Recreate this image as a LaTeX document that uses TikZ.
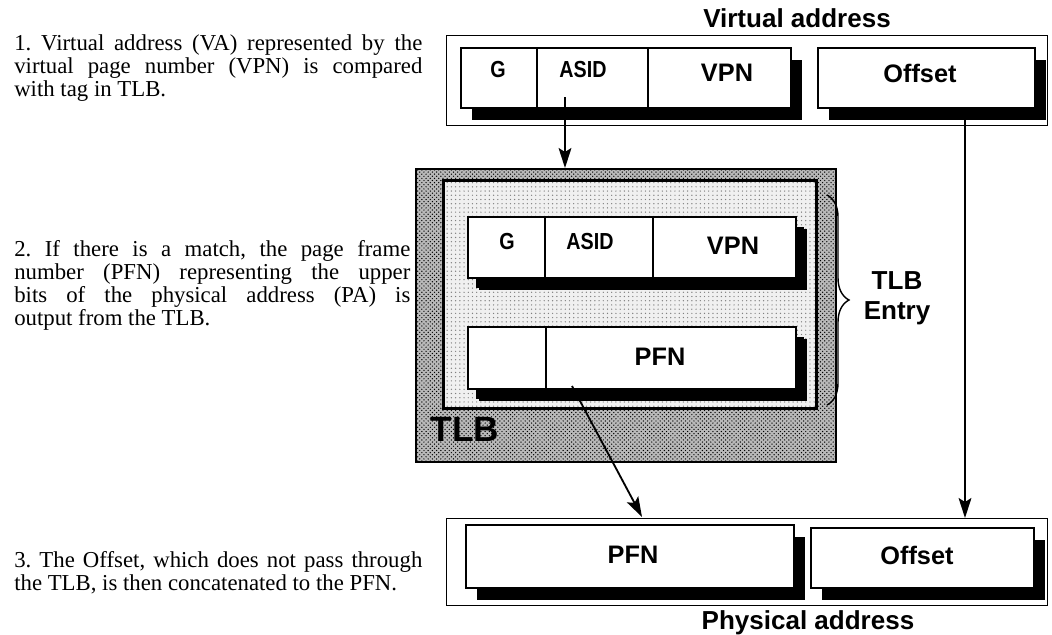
\documentclass[tikz,border=0pt]{standalone}
\usepackage{fontspec}
\setmainfont{Liberation Serif}
\setsansfont{Liberation Sans}
\newfontfamily\narrowsans[FakeStretch=0.85]{Liberation Sans}
\usepackage{tikz}
\usetikzlibrary{arrows.meta, positioning, calc, shadows, patterns, decorations.pathreplacing}
\tikzset{frame/.style={rectangle,draw,line width=0.8pt,inner sep=0pt,anchor=north west},
         field/.style={rectangle,draw,fill=white,line width=1.6pt,inner sep=0pt,anchor=north west,
                       drop shadow={shadow xshift=0.26cm,shadow yshift=-0.29cm,fill=black,opacity=1}},
         entryfield/.style={field,drop shadow={shadow xshift=0.2cm,shadow yshift=-0.25cm,fill=black,opacity=1}},
         tlbouter/.style={rectangle,draw,line width=1.2pt,inner sep=0pt,anchor=north west,
                          preaction={fill=gray!55},pattern=crosshatch dots},
         tlbinner/.style={rectangle,draw,line width=1.8pt,inner sep=0pt,anchor=north west,
                          preaction={fill=gray!12},pattern=dots,pattern color=gray},
         biglabel/.style={font=\sffamily\bfseries\fontsize{18}{20}\selectfont},
         smalllabel/.style={font=\narrowsans\bfseries\fontsize{16.5}{18}\selectfont},
         title/.style={font=\sffamily\bfseries\fontsize{18.5}{21}\selectfont},
         note/.style={anchor=base west,text width=10.2cm,align=justify,inner sep=0pt,
                      font=\fontsize{16.2}{16.4}\selectfont\frenchspacing},
         divider/.style={line width=1.6pt},
         arrow/.style={-{Stealth[length=5mm,width=3.2mm,inset=1mm]},line width=1.3pt}}
\newcommand{\hang}{\hangindent=0.825cm\hangafter=1 }

\begin{document}
\begin{tikzpicture}[x=0.025cm,y=-0.025cm]
    \useasboundingbox (0,0) rectangle (1052,634);

    % virtual address
    \node (va) [frame, minimum width=15.025cm, minimum height=2.25cm] at (446,35) {};
    \node (vaTag) [field, minimum width=8.25cm, minimum height=1.5cm] at (460,47) {};
    \node (vaOff) [field, minimum width=5.425cm, minimum height=1.5cm] at (817,47) {};
    \draw[divider] (537,0 |- vaTag.north) -- (537,0 |- vaTag.south);
    \draw[divider] (648,0 |- vaTag.north) -- (648,0 |- vaTag.south);
    \node (vaG) [smalllabel] at (498,70) {G};
    \node (vaAsid) [smalllabel] at (583,70) {ASID};
    \node (vaVpn) [biglabel] at (727,73) {VPN};
    \node (vaOffTxt) [biglabel] at (920,73) {Offset};
    \node (vaTitle) [title] at (797,18) {Virtual address};

    % TLB
    \node (tlb) [tlbouter, minimum width=10.5cm, minimum height=7.325cm] at (415,168) {};
    \node (tlbIn) [tlbinner, minimum width=9.325cm, minimum height=5.7cm] at (442,179) {};
    \node (entTag) [entryfield, minimum width=8.2cm, minimum height=1.525cm] at (467,216) {};
    \node (entPfn) [entryfield, minimum width=8.2cm, minimum height=1.55cm] at (467,326) {};
    \draw[divider] (545,0 |- entTag.north) -- (545,0 |- entTag.south);
    \draw[divider] (653,0 |- entTag.north) -- (653,0 |- entTag.south);
    \draw[divider] (546,0 |- entPfn.north) -- (546,0 |- entPfn.south);
    \node (entG) [smalllabel] at (507,242) {G};
    \node (entAsid) [smalllabel] at (590,242) {ASID};
    \node (entVpn) [biglabel] at (733,246) {VPN};
    \node (entPfnTxt) [biglabel] at (660,357) {PFN};
    \node (tlbName) [font=\sffamily\bfseries\fontsize{25}{27}\selectfont] at (465,429) {TLB};
    \draw[line width=1pt, decorate, decoration={brace, amplitude=0.55cm}] (827,195) -- (827,405);
    \node (entName) [title, align=center] at (897,298) {TLB\\Entry};

    % physical address
    \node (pa) [frame, minimum width=15.025cm, minimum height=2.175cm] at (446,518) {};
    \node (paPfn) [field, minimum width=8.2cm, minimum height=1.575cm] at (465,524) {};
    \node (paOff) [field, minimum width=5.575cm, minimum height=1.5cm] at (810,527) {};
    \node (paPfnTxt) [biglabel] at (633,555) {PFN};
    \node (paOffTxt) [biglabel] at (917,555) {Offset};
    \node (paTitle) [title] at (808,623) {Physical address};

    % connectors
    \coordinate (asidTap) at (565,97);
    \coordinate (offTap) at (965,118);
    \coordinate (pfnTap) at (572,386);
    \coordinate (pfnIn) at (642,517);
    \draw[arrow] (asidTap) -- (asidTap |- tlb.north);
    \draw[arrow] (offTap) -- (offTap |- pa.north);
    \draw[arrow] (pfnTap) -- (pfnIn);

    % steps
    \node (note1) [note] at (14,50) {\hang 1. Virtual address (VA) represented by the\linebreak
        virtual page number (VPN) is compared\linebreak with tag in TLB.};
    \node (note2) [note, text width=9.9cm] at (14,256) {\hang 2. If there is a match, the page frame\linebreak
        number (PFN) representing the upper\linebreak bits of the physical address (PA) is\linebreak
        output from the TLB.};
    \node (note3) [note] at (14,567) {\hang 3. The Offset, which does not pass through\linebreak
        the TLB, is then concatenated to the PFN.};
\end{tikzpicture}
\end{document}
